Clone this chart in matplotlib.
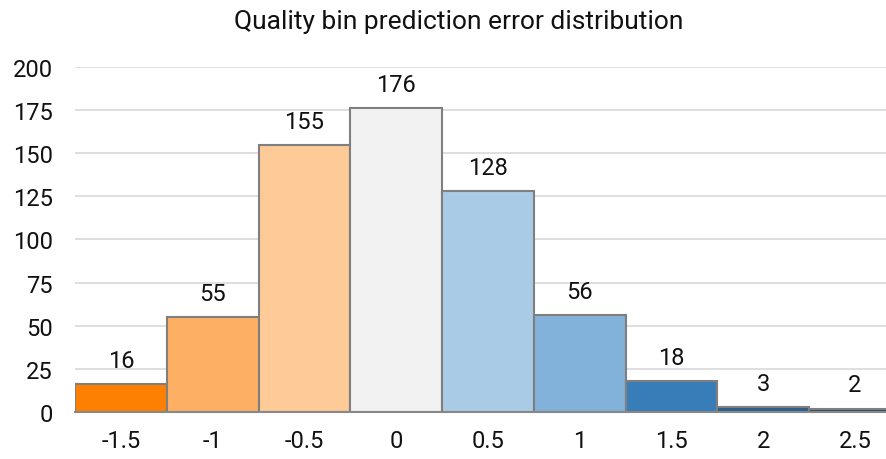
import matplotlib.pyplot as plt

plt.rcParams['font.family'] = ['Roboto', 'DejaVu Sans']

bins = ['-1.5', '-1', '-0.5', '0', '0.5', '1', '1.5', '2', '2.5']
counts = [16, 55, 155, 176, 128, 56, 18, 3, 2]
colors = ['#FF7F00', '#FDB064', '#FECA98', '#F2F2F2', '#AACBE6',
          '#82B1DA', '#377EB8', '#2C5F8C', '#2A4A66']

fig = plt.figure(figsize=(8.86, 4.6), dpi=100)
# the last bar runs past the right edge of the picture
ax = fig.add_axes([0.0847, 0.1022, 0.932, 0.7500])

x = range(len(bins))
ax.bar(x, counts, width=1.0, color=colors, edgecolor='#7F7F7F', linewidth=1.5, zorder=3)
for i, c in zip(x, counts):
    ax.text(i, c + 7, str(c), ha='center', va='bottom', fontsize=17, color='#111111')

ax.set_xlim(-0.5, len(bins) - 0.5)
ax.set_ylim(0, 200)
ax.set_yticks(range(0, 201, 25))
ax.set_xticks(list(x))
ax.set_xticklabels(bins)
ax.tick_params(axis='both', length=0, labelsize=17, colors='#111111')
ax.tick_params(axis='x', pad=12)
ax.tick_params(axis='y', pad=16)
ax.grid(axis='y', color='#D9D9D9', linewidth=1.2, zorder=0)
for s in ['top', 'right', 'left']:
    ax.spines[s].set_visible(False)
ax.spines['bottom'].set_color('#888888')
ax.spines['bottom'].set_linewidth(1.5)
ax.spines['bottom'].set_zorder(4)

fig.text(0.518, 0.952, 'Quality bin prediction error distribution', ha='center', va='center',
         fontsize=19, color='#111111')

fig.savefig('out.png', dpi=100)
